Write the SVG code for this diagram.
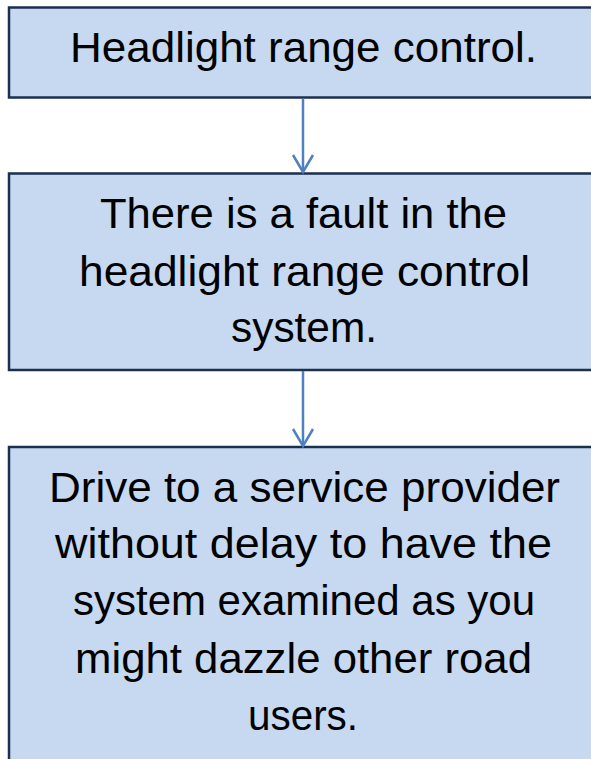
<svg xmlns="http://www.w3.org/2000/svg" width="591" height="759" viewBox="0 0 591 759">
<defs>
<style>
.box{fill:#C6D9F1;stroke:#1B2F4F;stroke-width:2.5}
.t{font-family:"Liberation Sans",Arial,sans-serif;font-size:42px;fill:#000;text-anchor:middle}
.c{stroke:#4F81BD;stroke-width:2.5;fill:none}
</style>
<marker id="ah" viewBox="-20 -12 22 24" refX="0" refY="0" markerWidth="22" markerHeight="24" markerUnits="userSpaceOnUse" orient="auto" overflow="visible">
<polyline points="-17,-10 0,0 -17,10" fill="none" stroke="#4F81BD" stroke-width="2.5"/>
</marker>
</defs>
<rect width="591" height="759" fill="#FFFFFF"/>
<g id="node1">
<rect class="box" x="9" y="7.5" width="600" height="90"/>
<text class="t" x="303.5" y="62" textLength="467" lengthAdjust="spacingAndGlyphs">Headlight range control.</text>
</g>
<g id="node2">
<rect class="box" x="9" y="173.5" width="600" height="196.5"/>
<text class="t" x="303.5" y="228" textLength="407" lengthAdjust="spacingAndGlyphs">There is a fault in the</text>
<text class="t" x="304.5" y="286" textLength="451" lengthAdjust="spacingAndGlyphs">headlight range control</text>
<text class="t" x="304" y="342" textLength="146" lengthAdjust="spacingAndGlyphs">system.</text>
</g>
<g id="node3">
<rect class="box" x="9" y="447" width="600" height="330"/>
<text class="t" x="304.5" y="502" textLength="511" lengthAdjust="spacingAndGlyphs">Drive to a service provider</text>
<text class="t" x="303.5" y="558" textLength="497" lengthAdjust="spacingAndGlyphs">without delay to have the</text>
<text class="t" x="304" y="615" textLength="462" lengthAdjust="spacingAndGlyphs">system examined as you</text>
<text class="t" x="303.5" y="673" textLength="457" lengthAdjust="spacingAndGlyphs">might dazzle other road</text>
<text class="t" x="303" y="730" textLength="110" lengthAdjust="spacingAndGlyphs">users.</text>
</g>
<g id="connectors">
<line class="c" x1="303" y1="98.5" x2="303" y2="172" marker-end="url(#ah)"/>
<line class="c" x1="303" y1="371" x2="303" y2="446" marker-end="url(#ah)"/>
</g>
</svg>
